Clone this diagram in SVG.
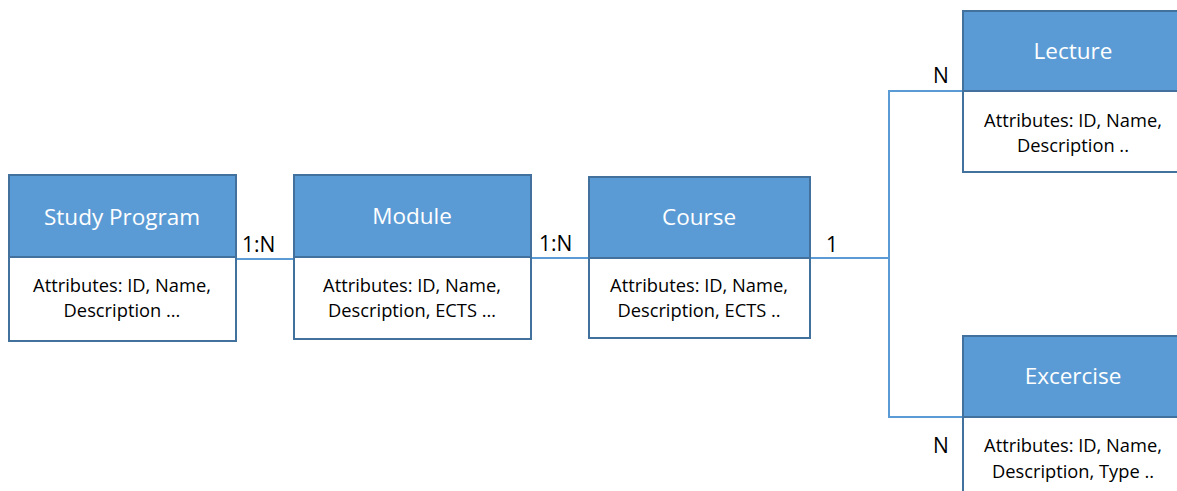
<svg xmlns="http://www.w3.org/2000/svg" width="1177" height="491" viewBox="0 0 1177 491">
<style>
.hd{fill:#5B9BD5;stroke:#41719C;stroke-width:2}
.bd{fill:#FFFFFF;stroke:#41719C;stroke-width:2}
.ht{font-family:"Open Sans","Liberation Sans",sans-serif;font-size:22.5px;fill:#FFFFFF;text-anchor:middle}
.bt{font-family:"Open Sans","Liberation Sans",sans-serif;font-size:18.3px;fill:#000000;text-anchor:middle}
.lb{font-family:"Open Sans","Liberation Sans",sans-serif;font-size:21px;fill:#000000}
.cn{fill:none;stroke:#5B9BD5;stroke-width:2}
</style>
<rect width="1177" height="491" fill="#FFFFFF"/>
<g id="connectors">
<line class="cn" x1="236" y1="259" x2="294" y2="259"/>
<line class="cn" x1="531" y1="258" x2="589" y2="258"/>
<polyline class="cn" points="810,258 889,258"/>
<polyline class="cn" points="962,91 889,91 889,417 962,417"/>
<text class="lb" x="242" y="252">1:N</text>
<text class="lb" x="539" y="251">1:N</text>
<text class="lb" x="826" y="252">1</text>
<text class="lb" x="933" y="83">N</text>
<text class="lb" x="933" y="453">N</text>
</g>
<g id="study-program">
<rect class="bd" x="9" y="257" width="227" height="84"/>
<rect class="hd" x="9" y="175" width="227" height="82"/>
<text class="ht" x="122" y="225">Study Program</text>
<text class="bt" x="122" y="292">Attributes: ID, Name,</text>
<text class="bt" x="122" y="317">Description ...</text>
</g>
<g id="module">
<rect class="bd" x="294" y="257" width="237" height="82"/>
<rect class="hd" x="294" y="175" width="237" height="82"/>
<text class="ht" x="412" y="224">Module</text>
<text class="bt" x="412" y="292">Attributes: ID, Name,</text>
<text class="bt" x="412" y="317">Description, ECTS …</text>
</g>
<g id="course">
<rect class="bd" x="589" y="258" width="221" height="80"/>
<rect class="hd" x="589" y="177" width="221" height="81"/>
<text class="ht" x="699" y="225">Course</text>
<text class="bt" x="699" y="292">Attributes: ID, Name,</text>
<text class="bt" x="699" y="317">Description, ECTS ..</text>
</g>
<g id="lecture">
<rect class="bd" x="963" y="91" width="222" height="81"/>
<rect class="hd" x="963" y="11" width="222" height="80"/>
<text class="ht" x="1073" y="59">Lecture</text>
<text class="bt" x="1073" y="127">Attributes: ID, Name,</text>
<text class="bt" x="1073" y="152">Description ..</text>
</g>
<g id="excercise">
<rect class="bd" x="963" y="417" width="222" height="90"/>
<rect class="hd" x="963" y="336" width="222" height="81"/>
<text class="ht" x="1073" y="384">Excercise</text>
<text class="bt" x="1073" y="452">Attributes: ID, Name,</text>
<text class="bt" x="1073" y="478">Description, Type ..</text>
</g>
</svg>
